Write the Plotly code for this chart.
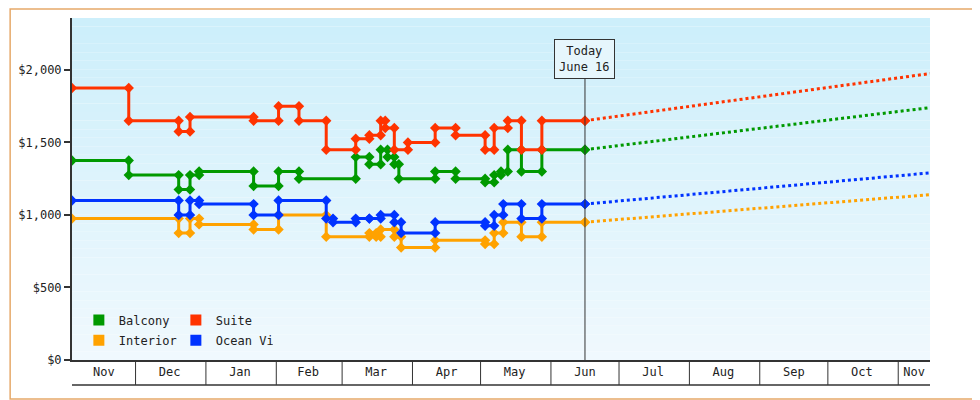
import plotly.graph_objects as go

# price history: change dates and prices per cabin type
suite_dates = ["2023-11-03", "2023-11-28", "2023-12-20", "2023-12-25", "2024-01-22", "2024-02-02",
               "2024-02-11", "2024-02-23", "2024-03-07", "2024-03-13", "2024-03-18", "2024-03-20",
               "2024-03-24", "2024-03-30", "2024-04-11", "2024-04-20", "2024-05-03", "2024-05-07",
               "2024-05-13", "2024-05-19", "2024-05-28", "2024-06-16"]
suite_vals = [1875, 1650, 1575, 1675, 1650, 1750, 1650, 1450, 1525, 1550, 1650, 1600,
              1450, 1500, 1600, 1550, 1450, 1600, 1650, 1450, 1650, 1650]

balcony_dates = ["2023-11-03", "2023-11-28", "2023-12-20", "2023-12-25", "2023-12-29", "2024-01-22",
                 "2024-02-02", "2024-02-11", "2024-03-07", "2024-03-13", "2024-03-18", "2024-03-21",
                 "2024-03-24", "2024-03-26", "2024-04-11", "2024-04-20", "2024-05-03", "2024-05-07",
                 "2024-05-10", "2024-05-13", "2024-05-19", "2024-05-28", "2024-06-16"]
balcony_vals = [1375, 1275, 1175, 1275, 1300, 1200, 1300, 1250, 1400, 1350, 1450, 1400,
                1350, 1250, 1300, 1250, 1225, 1275, 1300, 1450, 1300, 1450, 1450]

ocean_dates = ["2023-11-03", "2023-12-20", "2023-12-25", "2023-12-29", "2024-01-22", "2024-02-02",
               "2024-02-23", "2024-02-26", "2024-03-07", "2024-03-13", "2024-03-18", "2024-03-24",
               "2024-03-27", "2024-04-11", "2024-05-03", "2024-05-07", "2024-05-11", "2024-05-19",
               "2024-05-28", "2024-06-16"]
ocean_vals = [1100, 1000, 1100, 1075, 1000, 1100, 975, 950, 975, 975, 1000, 950,
              875, 950, 925, 1000, 1075, 975, 1075, 1075]

interior_dates = ["2023-11-03", "2023-12-20", "2023-12-25", "2023-12-29", "2024-01-22", "2024-02-02",
                  "2024-02-23", "2024-03-13", "2024-03-16", "2024-03-18", "2024-03-24", "2024-03-27",
                  "2024-04-11", "2024-05-03", "2024-05-07", "2024-05-11", "2024-05-19", "2024-05-28",
                  "2024-06-16"]
interior_vals = [975, 875, 975, 935, 900, 1000, 850, 875, 850, 900, 850, 775,
                 825, 800, 875, 950, 850, 950, 950]

# forecast endpoints
fc_dates = ["2024-06-16", "2024-11-15"]
fc_suite = [1650, 1975]
fc_balcony = [1450, 1740]
fc_ocean = [1075, 1290]
fc_interior = [950, 1140]

names = ["Balcony", "Suite", "Interior", "Ocean View"]
colors = {"Balcony": "#009900", "Suite": "#ff3300", "Interior": "#ffa200", "Ocean View": "#0033ff"}

y_ticks = [0, 500, 1000, 1500, 2000]
y_labels = ["$0", "$500", "$1,000", "$1,500", "$2,000"]
month_starts = ["2023-12-01", "2024-01-01", "2024-02-01", "2024-03-01", "2024-04-01", "2024-05-01",
                "2024-06-01", "2024-07-01", "2024-08-01", "2024-09-01", "2024-10-01", "2024-11-01"]
month_label_dates = ["2023-11-17", "2023-12-16", "2024-01-16", "2024-02-15", "2024-03-16", "2024-04-16",
                     "2024-05-16", "2024-06-16", "2024-07-16", "2024-08-16", "2024-09-16", "2024-10-16",
                     "2024-11-08"]
month_labels = ["Nov", "Dec", "Jan", "Feb", "Mar", "Apr", "May", "Jun", "Jul", "Aug", "Sep", "Oct", "Nov"]
today = "2024-06-16"


def steps(dates, vals):
    xs, ys = [dates[0]], [vals[0]]
    for i in range(1, len(dates)):
        xs += [dates[i], dates[i]]
        ys += [vals[i - 1], vals[i]]
    return xs, ys


fig = go.Figure()
series = [("Interior", interior_dates, interior_vals, fc_interior),
          ("Ocean View", ocean_dates, ocean_vals, fc_ocean),
          ("Balcony", balcony_dates, balcony_vals, fc_balcony),
          ("Suite", suite_dates, suite_vals, fc_suite)]
for name, d, v, fc in series:
    xs, ys = steps(d, v)
    fig.add_trace(go.Scatter(x=xs, y=ys, mode="lines+markers", showlegend=False,
                             line=dict(color=colors[name], width=3),
                             marker=dict(symbol="diamond", size=8, color=colors[name])))
    fig.add_trace(go.Scatter(x=fc_dates, y=fc, mode="lines", showlegend=False,
                             line=dict(color=colors[name], width=3, dash="dot")))

# legend entries, two rows
for i, name in enumerate(names):
    fig.add_trace(go.Scatter(x=[None], y=[None], mode="markers", name=name,
                             legend="legend" if i < 2 else "legend2",
                             marker=dict(symbol="square", size=11, color=colors[name])))

shapes = []
# gradient background
n = 40
for i in range(n):
    t = i / (n - 1)
    r = int(205 + (240 - 205) * t)
    g = int(239 + (249 - 239) * t)
    b = int(251 + (254 - 251) * t)
    shapes.append(dict(type="rect", xref="paper", yref="paper", x0=0, x1=1,
                       y0=1 - (i + 1) / n, y1=1 - i / n, line_width=0,
                       fillcolor=f"rgb({r},{g},{b})", layer="below"))
for m in month_starts:
    shapes.append(dict(type="line", xref="x", yref="paper", x0=m, x1=m, y0=0, y1=-0.073,
                       line=dict(color="#333", width=1)))
shapes.append(dict(type="line", xref="paper", yref="paper", x0=0, x1=1, y0=-0.073, y1=-0.073,
                   line=dict(color="#333", width=1.5)))
shapes.append(dict(type="line", xref="x", yref="paper", x0=today, x1=today, y0=0, y1=0.88,
                   line=dict(color="#333", width=1)))
# outer border (page body adds 8px offset)
shapes.append(dict(type="rect", xref="paper", yref="paper",
                   x0=-62 / 860, x1=(971 - 62) / 860, y0=-39 / 342, y1=(342 + 9) / 342,
                   line=dict(color="#e6a96a", width=1.5)))

fig.update_layout(
    width=972, height=392,
    margin=dict(l=62, r=50, t=10, b=40),
    paper_bgcolor="white", plot_bgcolor="rgba(0,0,0,0)",
    font=dict(family="DejaVu Sans Mono", size=12, color="#222"),
    shapes=shapes,
    xaxis=dict(range=["2023-11-03", "2024-11-15"], tickvals=month_label_dates, ticktext=month_labels,
               showgrid=False, ticks="", showline=True, linecolor="#333", linewidth=2,
               tickfont=dict(size=12)),
    yaxis=dict(range=[0, 2358], tickvals=y_ticks, ticktext=y_labels, showgrid=False,
               ticks="outside", ticklen=6, tickwidth=2, tickcolor="#333",
               showline=True, linecolor="#333", linewidth=2, zeroline=False),
    legend=dict(orientation="h", x=0.008, y=0.117, xanchor="left", yanchor="middle",
                bgcolor="rgba(0,0,0,0)", entrywidth=52, itemwidth=30, font=dict(size=12)),
    legend2=dict(orientation="h", x=0.008, y=0.058, xanchor="left", yanchor="middle",
                 bgcolor="rgba(0,0,0,0)", entrywidth=52, itemwidth=30, font=dict(size=12)),
    annotations=[dict(x=today, y=0.94, xref="x", yref="paper", text="Today<br>June 16",
                      showarrow=False, bgcolor="#e6f6fc", bordercolor="#333", borderwidth=1,
                      borderpad=4, font=dict(size=12))],
)

fig.write_html("out.html")
